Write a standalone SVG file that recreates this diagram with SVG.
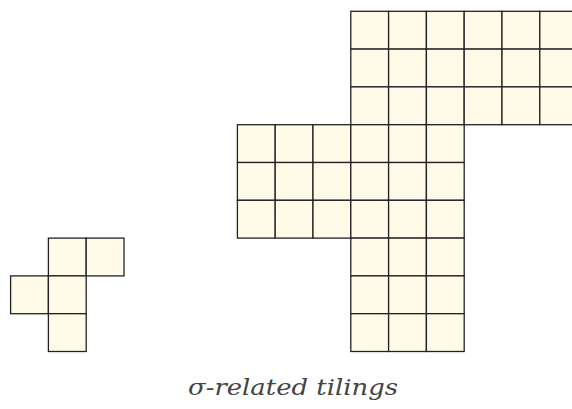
<svg xmlns="http://www.w3.org/2000/svg" width="572" height="409" viewBox="0 0 572 409">
<style>
.c{fill:#fffbe8;stroke:#222;stroke-width:1.3}
</style>
<defs><rect id="sq" class="c" width="37.8" height="37.8"/></defs>
<rect width="572" height="409" fill="#fff"/>
<g id="small-tiling">
<use href="#sq" x="48.4" y="238.1"/><use href="#sq" x="86.2" y="238.1"/>
<use href="#sq" x="10.6" y="275.9"/><use href="#sq" x="48.4" y="275.9"/>
<use href="#sq" x="48.4" y="313.7"/>
</g>
<g id="large-tiling">
<use href="#sq" x="350.8" y="11.3"/><use href="#sq" x="388.6" y="11.3"/><use href="#sq" x="426.4" y="11.3"/><use href="#sq" x="464.2" y="11.3"/><use href="#sq" x="502" y="11.3"/><use href="#sq" x="539.8" y="11.3"/>
<use href="#sq" x="350.8" y="49.1"/><use href="#sq" x="388.6" y="49.1"/><use href="#sq" x="426.4" y="49.1"/><use href="#sq" x="464.2" y="49.1"/><use href="#sq" x="502" y="49.1"/><use href="#sq" x="539.8" y="49.1"/>
<use href="#sq" x="350.8" y="86.9"/><use href="#sq" x="388.6" y="86.9"/><use href="#sq" x="426.4" y="86.9"/><use href="#sq" x="464.2" y="86.9"/><use href="#sq" x="502" y="86.9"/><use href="#sq" x="539.8" y="86.9"/>
<use href="#sq" x="237.4" y="124.7"/><use href="#sq" x="275.2" y="124.7"/><use href="#sq" x="313" y="124.7"/><use href="#sq" x="350.8" y="124.7"/><use href="#sq" x="388.6" y="124.7"/><use href="#sq" x="426.4" y="124.7"/>
<use href="#sq" x="237.4" y="162.5"/><use href="#sq" x="275.2" y="162.5"/><use href="#sq" x="313" y="162.5"/><use href="#sq" x="350.8" y="162.5"/><use href="#sq" x="388.6" y="162.5"/><use href="#sq" x="426.4" y="162.5"/>
<use href="#sq" x="237.4" y="200.3"/><use href="#sq" x="275.2" y="200.3"/><use href="#sq" x="313" y="200.3"/><use href="#sq" x="350.8" y="200.3"/><use href="#sq" x="388.6" y="200.3"/><use href="#sq" x="426.4" y="200.3"/>
<use href="#sq" x="350.8" y="238.1"/><use href="#sq" x="388.6" y="238.1"/><use href="#sq" x="426.4" y="238.1"/>
<use href="#sq" x="350.8" y="275.9"/><use href="#sq" x="388.6" y="275.9"/><use href="#sq" x="426.4" y="275.9"/>
<use href="#sq" x="350.8" y="313.7"/><use href="#sq" x="388.6" y="313.7"/><use href="#sq" x="426.4" y="313.7"/>
</g>
<g id="caption">
<text x="188" y="395" textLength="210" lengthAdjust="spacingAndGlyphs" font-family="'DejaVu Serif', serif" font-style="italic" font-size="22" fill="#444">σ-related tilings</text>
</g>
</svg>
